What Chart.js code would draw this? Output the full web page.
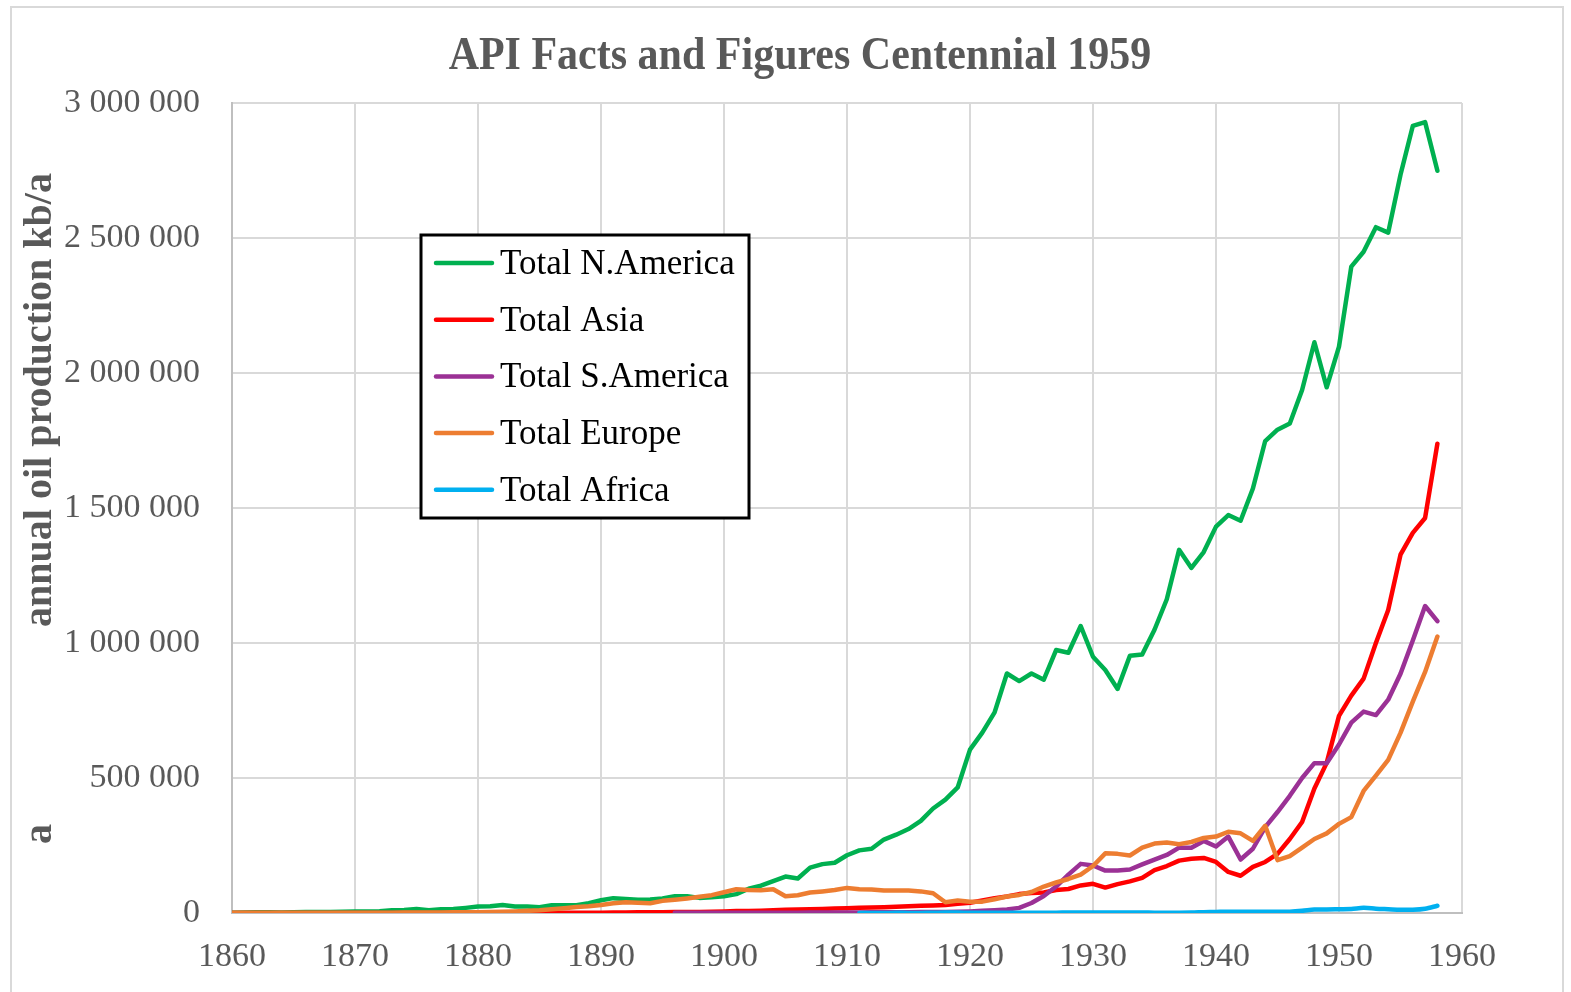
<!DOCTYPE html>
<html>
<head>
<meta charset="utf-8">
<title>API Facts and Figures Centennial 1959</title>
<script src="https://cdn.jsdelivr.net/npm/chart.js@4.4.0/dist/chart.umd.min.js"></script>
<style>
    html, body { margin: 0; padding: 0; background: #fff; }
    #wrap { width: 1571px; height: 992px; position: relative; }
</style>
</head>
<body>
<div id="wrap"><canvas id="oilChart"></canvas></div>
<script>
/** 1. Data, values in thousands of kb/a */
const years = [
    1860, 1861, 1862, 1863, 1864, 1865, 1866, 1867, 1868, 1869,
    1870, 1871, 1872, 1873, 1874, 1875, 1876, 1877, 1878, 1879,
    1880, 1881, 1882, 1883, 1884, 1885, 1886, 1887, 1888, 1889,
    1890, 1891, 1892, 1893, 1894, 1895, 1896, 1897, 1898, 1899,
    1900, 1901, 1902, 1903, 1904, 1905, 1906, 1907, 1908, 1909,
    1910, 1911, 1912, 1913, 1914, 1915, 1916, 1917, 1918, 1919,
    1920, 1921, 1922, 1923, 1924, 1925, 1926, 1927, 1928, 1929,
    1930, 1931, 1932, 1933, 1934, 1935, 1936, 1937, 1938, 1939,
    1940, 1941, 1942, 1943, 1944, 1945, 1946, 1947, 1948, 1949,
    1950, 1951, 1952, 1953, 1954, 1955, 1956, 1957, 1958
];

const northAmerica = [
    0.5, 2, 3, 2.6, 2.1, 2.5, 3.6, 3.3, 3.6, 4.2,
    5.3, 5.2, 6.3, 10, 11, 15, 10, 14, 15, 19,
    24, 25, 30, 24, 24, 21, 29, 29, 29, 36,
    47, 55, 52, 49, 50, 54, 62, 62, 56, 58,
    62, 70, 90, 101, 118, 135, 128, 168, 181, 186,
    214, 232, 238, 272, 290, 311, 341, 387, 420, 465,
    605, 668, 743, 887, 859, 887, 864, 974, 964, 1063,
    949, 900, 830, 953, 957, 1049, 1162, 1345, 1278, 1337,
    1431, 1474, 1453, 1572, 1748, 1790, 1813, 1937, 2114, 1947,
    2098, 2394, 2449, 2540, 2520, 2734, 2915, 2929, 2749
];

const asia = [
    0, 0, 0, 0, 0, 0, 0, 0, 0, 0,
    0, 0, 0, 0, 0, 0, 0, 0, 0, 0,
    0, 0, 0, 0.5, 0.5, 1, 1, 1, 1, 1,
    1, 1.5, 2, 3, 3, 3, 3.5, 4, 4, 5,
    6, 7, 7, 8, 10, 12, 13, 14, 15, 17,
    18, 19, 20, 21, 23, 25, 27, 28, 30, 34,
    38, 46, 55, 61, 70, 74, 76, 85, 89, 102,
    108, 94, 107, 117, 130, 159, 174, 194, 201, 204,
    189, 152, 138, 171, 189, 219, 274, 337, 461, 556,
    730, 805, 868, 1000, 1122, 1327, 1408, 1463, 1738
];

const southAmerica = [
    null, null, null, null, null, null, null, null, null, null,
    null, null, null, null, null, null, null, null, null, null,
    null, null, null, null, null, null, null, null, null, null,
    null, null, null, null, null, null, 1, 1, 1, 1,
    1, 1, 1, 1, 1, 1, 1, 1.5, 1.5, 2,
    2, 2, 2.5, 3, 3, 3, 4, 4, 4, 5,
    6, 8, 10, 13, 19, 37, 63, 98, 142, 182,
    176, 157, 157, 161, 180, 198, 215, 242, 242, 267,
    246, 283, 198, 238, 318, 374, 434, 500, 555, 555,
    624, 705, 746, 733, 790, 886, 1009, 1137, 1081
];

const europe = [
    0.5, 0.5, 0.5, 0.5, 0.5, 0.5, 0.5, 0.5, 0.5, 0.5,
    1, 1, 1, 1, 1.5, 1.5, 2, 2, 2.5, 2.5,
    3, 4, 5, 6, 8, 10, 14, 18, 22, 25,
    30, 36, 40, 38, 36, 45, 49, 54, 60, 66,
    77, 88, 85, 84, 88, 62, 66, 76, 80, 85,
    93, 88, 87, 83, 83, 83, 80, 73, 40, 46,
    42, 42, 51, 61, 67, 78, 98, 113, 126, 142,
    174, 221, 219, 213, 242, 257, 261, 255, 263, 278,
    283, 301, 295, 267, 323, 196, 211, 242, 274, 295,
    330, 355, 452, 509, 567, 667, 783, 893, 1024
];

const africa = [
    null, null, null, null, null, null, null, null, null, null,
    null, null, null, null, null, null, null, null, null, null,
    null, null, null, null, null, null, null, null, null, null,
    null, null, null, null, null, null, null, null, null, null,
    null, null, null, null, null, null, null, null, null, null,
    null, 0.1, 0.2, 0.1, 0.8, 0.2, 0.4, 1, 1.9, 1.5,
    1, 1.2, 1.2, 1.1, 1.1, 1.2, 1.2, 1.3, 1.8, 1.9,
    2, 2, 1.9, 1.7, 1.6, 1.3, 1.3, 1.2, 1.6, 3,
    4, 5, 5, 5, 5, 5, 5, 8, 13, 13,
    14, 15, 19, 16, 14, 12, 12, 16, 27
];

const UNIT = 1000;
const yTicks = [0, 500000, 1000000, 1500000, 2000000, 2500000, 3000000];

const seriesList = [
    { label: 'Total N.America', values: northAmerica, color: '#00b050' },
    { label: 'Total Asia', values: asia, color: '#ff0000' },
    { label: 'Total S.America', values: southAmerica, color: '#9b3195' },
    { label: 'Total Europe', values: europe, color: '#ed7d31' },
    { label: 'Total Africa', values: africa, color: '#00b0f0' }
];

const TXT = '#595959';
const SERIF = '"Liberation Serif", "Times New Roman", serif';

function spaced(v) {
    return String(v).replace(/\B(?=(\d{3})+(?!\d))/g, ' ');
}

/** 2. Decorations: outer frame, title, axis title, boxed legend */
const decorPlugin = {
    id: 'decor',
    beforeDraw(chart) {
        const ctx = chart.ctx;
        ctx.save();
        ctx.strokeStyle = '#d9d9d9';
        ctx.lineWidth = 2;
        ctx.strokeRect(11, 7, 1552, 1010);
        ctx.restore();
    },
    afterDraw(chart) {
        const ctx = chart.ctx;
        ctx.save();

        // Title
        ctx.fillStyle = TXT;
        ctx.font = 'bold 42px ' + SERIF;
        ctx.textAlign = 'center';
        ctx.textBaseline = 'alphabetic';
        ctx.save();
        ctx.translate(800, 69);
        ctx.scale(1, 1.1);
        ctx.fillText('API Facts and Figures Centennial 1959', 0, 0);
        ctx.restore();

        // Y axis title + stray wrapped "a"
        ctx.font = 'bold 40px ' + SERIF;
        ctx.save();
        ctx.translate(51, 400);
        ctx.rotate(-Math.PI / 2);
        ctx.fillText('annual oil production kb/a', 0, 0);
        ctx.restore();
        ctx.save();
        ctx.translate(51, 834);
        ctx.rotate(-Math.PI / 2);
        ctx.fillText('a', 0, 0);
        ctx.restore();

        // Legend box
        const box = { x: 421, y: 235, w: 328, h: 283 };
        ctx.fillStyle = '#fff';
        ctx.fillRect(box.x, box.y, box.w, box.h);
        ctx.strokeStyle = '#000';
        ctx.lineWidth = 3;
        ctx.strokeRect(box.x, box.y, box.w, box.h);

        ctx.font = '35px ' + SERIF;
        ctx.textAlign = 'left';
        ctx.lineCap = 'round';
        seriesList.forEach((s, i) => {
            const ly = 263 + i * 56.7;
            ctx.strokeStyle = s.color;
            ctx.lineWidth = 4.5;
            ctx.beginPath();
            ctx.moveTo(436, ly);
            ctx.lineTo(492, ly);
            ctx.stroke();
            ctx.fillStyle = '#000';
            ctx.fillText(s.label, 500, ly + 11);
        });
        ctx.restore();
    }
};

/** 3. Chart */
const datasets = seriesList.map((s, i) => ({
    label: s.label,
    data: years.map((yr, k) => ({ x: yr, y: s.values[k] === null ? null : s.values[k] * UNIT })),
    borderColor: s.color,
    backgroundColor: s.color,
    borderWidth: 4.5,
    pointRadius: 0,
    borderJoinStyle: 'round',
    borderCapStyle: 'round',
    tension: s.label === 'Total Africa' ? 0.3 : 0,
    spanGaps: false,
    fill: false,
    order: seriesList.length - i   // later series drawn on top, like the source
}));

new Chart(document.getElementById('oilChart'), {
    type: 'line',
    data: { datasets: datasets },
    plugins: [decorPlugin],
    options: {
        responsive: true,
        maintainAspectRatio: false,
        animation: false,
        layout: { padding: { left: 0, top: 103, right: 109, bottom: 0 } },
        plugins: { legend: { display: false }, title: { display: false }, tooltip: { enabled: false } },
        scales: {
            x: {
                type: 'linear',
                min: 1860, max: 1960,
                afterFit: s => { s.height = 79; },
                ticks: {
                    stepSize: 10, padding: 24, color: TXT,
                    font: { family: SERIF, size: 34 },
                    callback: v => String(v)
                },
                grid: { color: '#d9d9d9', lineWidth: 2, drawTicks: false },
                border: { color: '#bfbfbf', width: 2 }
            },
            y: {
                min: 0, max: 3000000,
                afterFit: s => { s.width = 232; },
                afterBuildTicks: s => { s.ticks = yTicks.map(v => ({ value: v })); },
                ticks: {
                    padding: 32, color: TXT,
                    font: { family: SERIF, size: 34 },
                    callback: v => spaced(v)
                },
                grid: { color: '#d9d9d9', lineWidth: 2, drawTicks: false },
                border: { color: '#bfbfbf', width: 2 }
            }
        }
    }
});
</script>
</body>
</html>
